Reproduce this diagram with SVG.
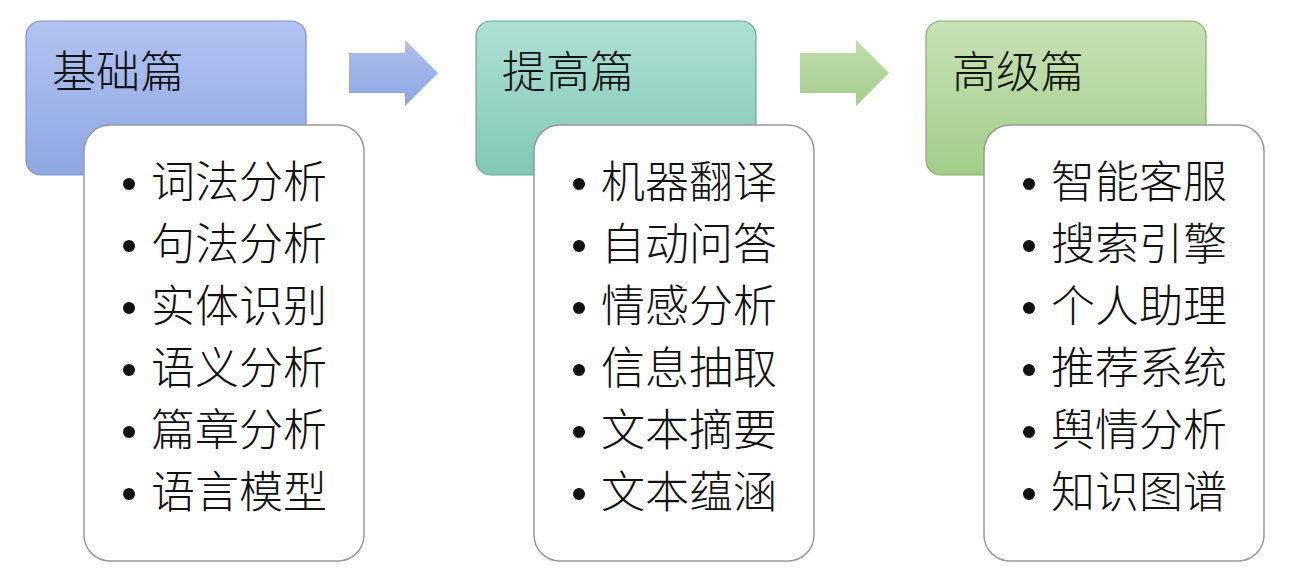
<svg xmlns="http://www.w3.org/2000/svg" width="1296" height="575" viewBox="0 0 1296 575">
<style>
.hdr{stroke-width:1.2}
.lst{fill:#ffffff;stroke:#9a9a9a;stroke-width:1.5}
.t{font-family:"Noto Sans CJK SC","Noto Sans CJK JP",sans-serif;font-size:44px;font-weight:300;fill:#111}
.b{fill:#111}
</style>
<defs>
<linearGradient id="gBlue" x1="0" y1="0" x2="0" y2="1"><stop offset="0" stop-color="#b2c3f0"/><stop offset="1" stop-color="#8ea8e3"/></linearGradient>
<linearGradient id="gTeal" x1="0" y1="0" x2="0" y2="1"><stop offset="0" stop-color="#ade0d3"/><stop offset="1" stop-color="#82c8b5"/></linearGradient>
<linearGradient id="gGreen" x1="0" y1="0" x2="0" y2="1"><stop offset="0" stop-color="#c8e2b4"/><stop offset="1" stop-color="#a2cd8a"/></linearGradient>
<linearGradient id="aBlue" x1="0" y1="0" x2="0" y2="1"><stop offset="0" stop-color="#aebfee"/><stop offset="1" stop-color="#8ca6e2"/></linearGradient>
<linearGradient id="aGreen" x1="0" y1="0" x2="0" y2="1"><stop offset="0" stop-color="#c0ddab"/><stop offset="1" stop-color="#a3cd8b"/></linearGradient>
</defs>
<g id="connectors">
<polygon points="349,53 405,53 405,40 438,73 405,106 405,93 349,93" fill="url(#aBlue)"/>
<polygon points="800,53 856,53 856,40 889,73 856,106 856,93 800,93" fill="url(#aGreen)"/>
</g>
<g id="node-basic">
<rect class="hdr" x="26" y="21" width="280" height="154" rx="15" fill="url(#gBlue)" stroke="#7d93c8"/>
<text class="t" x="52" y="88">基础篇</text>
<rect class="lst" x="84" y="125" width="280" height="436" rx="26"/>
<circle class="b" cx="129" cy="184" r="6"/><text class="t" x="151" y="198">词法分析</text>
<circle class="b" cx="129" cy="246" r="6"/><text class="t" x="151" y="260">句法分析</text>
<circle class="b" cx="129" cy="308" r="6"/><text class="t" x="151" y="322">实体识别</text>
<circle class="b" cx="129" cy="370" r="6"/><text class="t" x="151" y="384">语义分析</text>
<circle class="b" cx="129" cy="432" r="6"/><text class="t" x="151" y="446">篇章分析</text>
<circle class="b" cx="129" cy="494" r="6"/><text class="t" x="151" y="508">语言模型</text>
</g>
<g id="node-advanced">
<rect class="hdr" x="476" y="21" width="280" height="154" rx="15" fill="url(#gTeal)" stroke="#6aa899"/>
<text class="t" x="502" y="88">提高篇</text>
<rect class="lst" x="534" y="125" width="280" height="436" rx="26"/>
<circle class="b" cx="579" cy="184" r="6"/><text class="t" x="601" y="198">机器翻译</text>
<circle class="b" cx="579" cy="246" r="6"/><text class="t" x="601" y="260">自动问答</text>
<circle class="b" cx="579" cy="308" r="6"/><text class="t" x="601" y="322">情感分析</text>
<circle class="b" cx="579" cy="370" r="6"/><text class="t" x="601" y="384">信息抽取</text>
<circle class="b" cx="579" cy="432" r="6"/><text class="t" x="601" y="446">文本摘要</text>
<circle class="b" cx="579" cy="494" r="6"/><text class="t" x="601" y="508">文本蕴涵</text>
</g>
<g id="node-expert">
<rect class="hdr" x="926" y="21" width="280" height="154" rx="15" fill="url(#gGreen)" stroke="#86ad70"/>
<text class="t" x="952" y="88">高级篇</text>
<rect class="lst" x="984" y="125" width="280" height="436" rx="26"/>
<circle class="b" cx="1029" cy="184" r="6"/><text class="t" x="1051" y="198">智能客服</text>
<circle class="b" cx="1029" cy="246" r="6"/><text class="t" x="1051" y="260">搜索引擎</text>
<circle class="b" cx="1029" cy="308" r="6"/><text class="t" x="1051" y="322">个人助理</text>
<circle class="b" cx="1029" cy="370" r="6"/><text class="t" x="1051" y="384">推荐系统</text>
<circle class="b" cx="1029" cy="432" r="6"/><text class="t" x="1051" y="446">舆情分析</text>
<circle class="b" cx="1029" cy="494" r="6"/><text class="t" x="1051" y="508">知识图谱</text>
</g>
</svg>
